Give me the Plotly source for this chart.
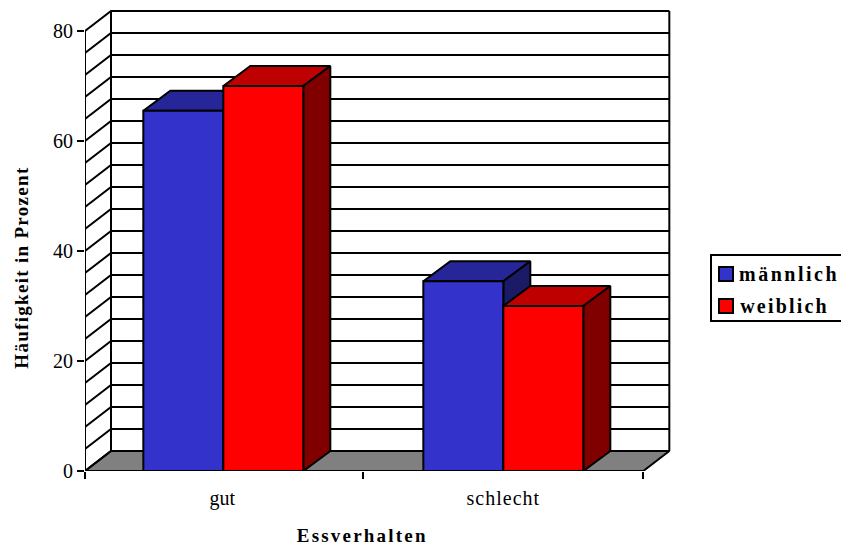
import json
import plotly.graph_objects as go

categories = ["gut", "schlecht"]
maennlich = [65.5, 34.5]
weiblich = [70, 30]
series_names = ["männlich", "weiblich"]
y_ticks = [0, 20, 40, 60, 80]
x_title = "Essverhalten"
y_title = "Häufigkeit in Prozent"

BLUE = ("#3333CC", "#262699", "#1A1A66")
RED = ("#FF0000", "#BF0000", "#800000")
FLOOR = "#808080"

W, H = 841, 546
LEFT, RIGHT, TOP, BOTTOM = 85, 672, 8, 471
PX_PER_CAT = 280.0
PX_PER_UNIT = 5.5
X_MIN = 0.006
X_MAX = X_MIN + (RIGHT - LEFT) / PX_PER_CAT
Y_MAX = (BOTTOM - TOP) / PX_PER_UNIT

# Oblique projection offsets, in data units
WALL_DX, DEPTH_DY = 26 / PX_PER_CAT, 20 / PX_PER_UNIT
BAR_DX = 27 / PX_PER_CAT
BAR_W = 80 / PX_PER_CAT
GRID_STEP, GRID_TOP = 4, 80
X_END = 2.0


def paper_x(px):
    return (px - LEFT) / (RIGHT - LEFT)


def paper_y(px):
    return (BOTTOM - px) / (BOTTOM - TOP)


def poly(xs, ys, fill, width=2):
    return go.Scatter(
        x=xs + xs[:1], y=ys + ys[:1], mode="lines", fill="toself", fillcolor=fill,
        line=dict(color="black", width=width), hoverinfo="skip", showlegend=False,
        cliponaxis=False,
    )


def box(x0, x1, value, colours):
    front, top, side = colours
    return [
        poly([x0, x1, x1 + BAR_DX, x0 + BAR_DX], [value, value, value + DEPTH_DY, value + DEPTH_DY], top),
        poly([x1, x1 + BAR_DX, x1 + BAR_DX, x1], [0, DEPTH_DY, value + DEPTH_DY, value], side),
        poly([x0, x1, x1, x0], [0, 0, value, value], front),
    ]


fig = go.Figure()

# Grey floor
fig.add_trace(poly([X_MIN, X_END, X_END + WALL_DX, X_MIN + WALL_DX], [0, 0, DEPTH_DY, DEPTH_DY], FLOOR))

# Back wall and side wall rules
gx, gy = [], []
for v in range(0, GRID_TOP + 1, GRID_STEP):
    gx += [X_MIN, X_MIN + WALL_DX, X_END + WALL_DX, None]
    gy += [v, v + DEPTH_DY, v + DEPTH_DY, None]
for x0 in (X_MIN, X_MIN + WALL_DX):
    dy = 0 if x0 == X_MIN else DEPTH_DY
    gx += [x0, x0, None]
    gy += [dy, GRID_TOP + dy, None]
gx += [X_END + WALL_DX, X_END + WALL_DX]
gy += [DEPTH_DY, GRID_TOP + DEPTH_DY]
fig.add_trace(go.Scatter(x=gx, y=gy, mode="lines", line=dict(color="black", width=2),
                         hoverinfo="skip", showlegend=False, cliponaxis=False))

# Bars, one category at a time
for i, _ in enumerate(categories):
    centre = i + 0.5
    for t in box(centre - BAR_W, centre, maennlich[i], BLUE):
        fig.add_trace(t)
    for t in box(centre, centre + BAR_W, weiblich[i], RED):
        fig.add_trace(t)

# Invisible trace that carries the category labels on the overlaid axis
fig.add_trace(go.Scatter(x=[0.5, 1.5], y=[0, 0], xaxis="x2", mode="markers",
                         marker=dict(opacity=0), hoverinfo="skip", showlegend=False))

font = "Liberation Serif, Times New Roman, serif"
annotations = [
    dict(text=f"<b>{x_title}</b>", x=paper_x(362), y=paper_y(535), xref="paper", yref="paper",
         showarrow=False, xanchor="center", yanchor="middle", font=dict(size=19, color="black", family=font)),
    dict(text=f"<b>{y_title}</b>", x=paper_x(21), y=paper_y(267), xref="paper", yref="paper", textangle=-90,
         showarrow=False, xanchor="center", yanchor="middle", font=dict(size=19, color="black", family=font)),
]
shapes = [dict(type="rect", xref="paper", yref="paper", x0=paper_x(711), x1=paper_x(845),
               y0=paper_y(255), y1=paper_y(321), line=dict(color="black", width=2), fillcolor="white")]

# Legend panel
for name, colours, cy, cx in zip(series_names, (BLUE, RED), (274, 306), (789, 784)):
    shapes.append(dict(type="rect", xref="paper", yref="paper", x0=paper_x(719), x1=paper_x(733),
                       y0=paper_y(cy - 7), y1=paper_y(cy + 7), line=dict(color="black", width=2),
                       fillcolor=colours[0]))
    annotations.append(dict(text=f"<b>{name}</b>", x=paper_x(cx), y=paper_y(cy), xref="paper", yref="paper",
                            showarrow=False, xanchor="center", yanchor="middle",
                            font=dict(size=20, color="black", family=font)))

fig.update_layout(
    width=W, height=H, autosize=False,
    margin=dict(l=LEFT, r=W - RIGHT, t=TOP, b=H - BOTTOM, pad=0),
    paper_bgcolor="white", plot_bgcolor="white",
    font=dict(family=font, color="black", size=20),
    showlegend=False,
    shapes=shapes, annotations=annotations,
    xaxis=dict(range=[X_MIN, X_MAX], tickmode="array", tickvals=[X_MIN, 1, X_END], showticklabels=False,
               ticks="outside", ticklen=7, tickwidth=2, tickcolor="black", showgrid=False, zeroline=False,
               showline=False),
    xaxis2=dict(overlaying="x", matches="x", side="bottom", tickmode="array", tickvals=[0.496, 1.5], ticktext=categories,
                ticks="outside", ticklen=9, tickwidth=0, tickcolor="rgba(0,0,0,0)", showgrid=False,
                zeroline=False, showline=False, tickfont=dict(size=20)),
    yaxis=dict(range=[0, Y_MAX], tickmode="array", tickvals=y_ticks, ticks="outside", ticklen=7, tickwidth=2,
               tickcolor="black", showgrid=False, zeroline=False, showline=False, tickfont=dict(size=20)),
)

# Tracking values for the serif labels, in pixels
spacing = {x_title: 2.2, y_title: 1.3, series_names[0]: 2.5, series_names[1]: 2.2,
           categories[0]: 0, categories[1]: 1.0}
post = """
var sp = %s;
document.querySelectorAll('svg text').forEach(function (t) {
  var k = t.textContent.trim();
  if (sp[k] !== undefined) { t.style.letterSpacing = sp[k] + 'px'; }
});
""" % json.dumps(spacing, ensure_ascii=False)

fig.write_html("out.html", post_script=post)
